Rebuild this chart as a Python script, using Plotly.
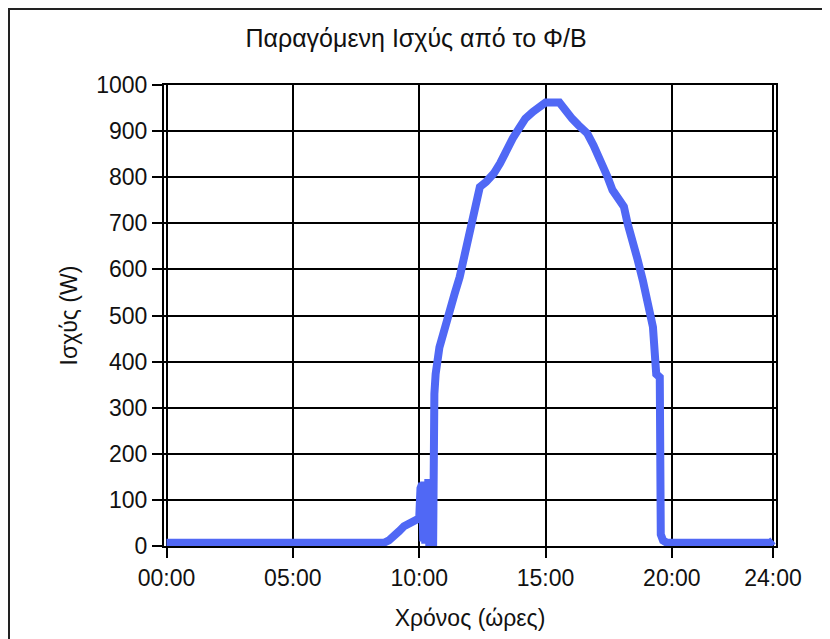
import plotly.graph_objects as go

# Time in hours and produced power (W)
hours = [0, 2, 4, 6, 8, 8.6, 8.8, 9.0, 9.2, 9.4, 9.6, 9.8, 10.0,
         10.05, 10.08, 10.12, 10.16, 10.2, 10.24, 10.28, 10.32, 10.36, 10.4, 10.45, 10.5,
         10.55, 10.6, 10.65, 10.8, 11.0, 11.2, 11.4, 11.6, 11.8, 12.0, 12.2, 12.4,
         12.65, 12.95, 13.2, 13.45, 13.7, 13.95, 14.2, 14.5, 14.75, 15.0, 15.55,
         15.8, 16.05, 16.3, 16.65, 16.9, 17.2, 17.45, 17.65, 17.9, 18.1, 18.25,
         18.45, 18.65, 18.85, 19.05, 19.25, 19.38, 19.52, 19.56, 19.65, 19.8,
         20.2, 21, 22, 23, 23.9, 24.0]
power = [7, 7, 7, 7, 7, 7, 12, 20, 32, 43, 50, 56, 60,
         125, 20, 135, 10, 140, 5, 140, 5, 145, 0, 140, 0,
         0, 330, 373, 431, 475, 511, 547, 583, 634, 692, 736, 779,
         790, 808, 830, 859, 884, 906, 927, 942, 954, 962, 962,
         942, 927, 913, 895, 869, 837, 801, 772, 750, 736, 699,
         663, 620, 576, 533, 475, 373, 366, 25, 12, 7,
         7, 7, 7, 7, 7, 12]

x_tickvals = [0, 5, 10, 15, 20, 24]
x_ticktext = ["00:00", "05:00", "10:00", "15:00", "20:00", "24:00"]
y_tickvals = [0, 100, 200, 300, 400, 500, 600, 700, 800, 900, 1000]

title_text = "Παραγόμενη Ισχύς από το Φ/Β"
x_title = "Χρόνος (ώρες)"
y_title = "Ισχύς (W)"

FONT = "Liberation Sans"
W, H = 830, 639
L, R, T, B = 156, 62, 77, 101   # page body adds an 8px offset
pw, ph = W - L - R, H - T - B

fig = go.Figure()
fig.add_trace(go.Scatter(
    x=hours, y=power, mode="lines",
    line=dict(color="#5068F5", width=8),
    showlegend=False,
))

fig.update_layout(
    width=W, height=H,
    margin=dict(l=L, r=R, t=T, b=B),
    paper_bgcolor="white", plot_bgcolor="white",
    font=dict(family=FONT, size=23, color="#111111"),
    title=dict(text=title_text, x=(416 - 8) / W, xanchor="center", y=1 - 30 / H,
               yanchor="middle", font=dict(family=FONT, size=25, color="#111111")),
    xaxis=dict(
        range=[-0.1, 24.12], tickvals=x_tickvals, ticktext=x_ticktext,
        showgrid=True, gridcolor="black", gridwidth=1.5,
        showline=True, linecolor="black", linewidth=2, mirror=True,
        ticks="outside", ticklen=10, tickcolor="black", tickwidth=2,
        zeroline=False, automargin=False,
        title=dict(text=x_title, standoff=20, font=dict(family=FONT, size=23)),
    ),
    yaxis=dict(
        range=[0, 1000], tickvals=y_tickvals,
        showgrid=True, gridcolor="black", gridwidth=1.5,
        showline=True, linecolor="black", linewidth=2, mirror=True,
        ticks="outside", ticklen=10, tickcolor="black", tickwidth=2,
        zeroline=False, automargin=False,
        title=dict(text=y_title, standoff=12, font=dict(family=FONT, size=23)),
    ),
    shapes=[dict(type="rect", xref="paper", yref="paper",
                 x0=(1 - L) / pw, x1=1.3, y0=-0.4, y1=1 + (T - 1) / ph,
                 line=dict(color="#222222", width=2), fillcolor="rgba(0,0,0,0)",
                 layer="below")],
)

fig.write_html("out.html")
